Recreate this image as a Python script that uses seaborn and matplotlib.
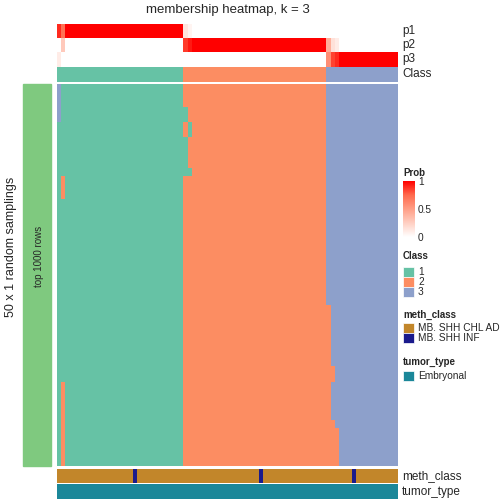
import numpy as np
import pandas as pd
import seaborn as sns
import matplotlib.pyplot as plt
from matplotlib.colors import ListedColormap, LinearSegmentedColormap, Normalize
from matplotlib.cm import ScalarMappable
from matplotlib.patches import Rectangle

sns.set_theme(style="white")
plt.rcParams['font.family'] = ['Liberation Sans', 'DejaVu Sans']

# ---- data -------------------------------------------------------------
n_samplings = 50
class_labels = [1] * 30 + [2] * 34 + [3] * 17

# (first row, last row + 1, column, class) where a sampling disagrees
deviations = [
    (0, 5, 0, 3),
    (12, 15, 1, 2),
    (39, 50, 1, 2),
    (3, 5, 30, 1),
    (7, 12, 30, 1),
    (5, 7, 31, 1),
    (11, 12, 31, 1),
    (29, 50, 64, 2),
    (37, 39, 65, 2),
    (44, 50, 65, 2),
    (45, 50, 66, 2),
]

p1 = [0.90, 0.72] + [1.0] * 28 + [0.14, 0.06] + [0.0] * 49
p2 = [0.0, 0.28] + [0.0] * 28 + [0.86, 0.94] + [1.0] * 32 + [0.42, 0.16, 0.10] + [0.0] * 14
p3 = [0.10, 0.0] + [0.0] * 28 + [0.0, 0.0] + [0.0] * 32 + [0.58, 0.84, 0.90] + [1.0] * 14

meth_levels = ['MB. SHH CHL AD', 'MB. SHH INF']
meth_class = ['MB. SHH CHL AD'] * 81
for i in [18, 48, 70]:
    meth_class[i] = 'MB. SHH INF'
tumor_levels = ['Embryonal']
tumor_type = ['Embryonal'] * 81

class_colors = ['#66C2A5', '#FC8D62', '#8DA0CB']
meth_colors = ['#C2862A', '#1A1A8C']
tumor_colors = ['#1B8799']
prob_cmap = LinearSegmentedColormap.from_list(
    'prob', [(0, '#FFFFFF'), (0.25, '#FFCFC2'), (0.5, '#FF9E86'), (0.75, '#FF6A4D'), (1, '#FF0000')])

# ---- build tables -----------------------------------------------------
mat = np.tile(np.array(class_labels), (n_samplings, 1))
for r0, r1, c, k in deviations:
    mat[r0:r1, c] = k
mem_df = pd.DataFrame(mat)
prob_df = pd.DataFrame([p1, p2, p3], index=['p1', 'p2', 'p3'])
meth_codes = [[meth_levels.index(m) for m in meth_class]]
tumor_codes = [[tumor_levels.index(t) for t in tumor_type]]

W = H = 504


def px_axes(fig, x0, y0, x1, y1):
    return fig.add_axes([x0 / W, 1 - y1 / H, (x1 - x0) / W, (y1 - y0) / H])


def px_text(fig, x, y, s, **kw):
    fig.text(x / W, 1 - y / H, s, **kw)


fig = plt.figure(figsize=(5.04, 5.04), dpi=100)

left, right = 57, 398

ax_prob = px_axes(fig, left, 24, right, 66.5)
sns.heatmap(prob_df, ax=ax_prob, cmap=prob_cmap, vmin=0, vmax=1, cbar=False,
            xticklabels=False, yticklabels=False)

ax_cls = px_axes(fig, left, 66.5, right, 81.5)
sns.heatmap([class_labels], ax=ax_cls, cmap=ListedColormap(class_colors), vmin=0.5, vmax=3.5,
            cbar=False, xticklabels=False, yticklabels=False)

ax_main = px_axes(fig, left, 84, right, 465.7)
sns.heatmap(mem_df, ax=ax_main, cmap=ListedColormap(class_colors), vmin=0.5, vmax=3.5,
            cbar=False, xticklabels=False, yticklabels=False)

ax_meth = px_axes(fig, left, 469, right, 483)
sns.heatmap(meth_codes, ax=ax_meth, cmap=ListedColormap(meth_colors), vmin=-0.5, vmax=1.5,
            cbar=False, xticklabels=False, yticklabels=False)

ax_tum = px_axes(fig, left, 484, right, 499)
sns.heatmap(tumor_codes, ax=ax_tum, cmap=ListedColormap(tumor_colors), vmin=-0.5, vmax=0.5,
            cbar=False, xticklabels=False, yticklabels=False)

# left split bar
fig.patches.append(Rectangle((23 / W, 1 - 465.7 / H), 28 / W, 381.7 / H,
                             transform=fig.transFigure, color='#7FC97F', zorder=0))
px_text(fig, 38.5, 256, 'top 1000 rows', rotation=90, ha='center', va='center', fontsize=7)
px_text(fig, 11.5, 247, '50 x 1 random samplings', rotation=90, ha='center', va='center', fontsize=9)

px_text(fig, 227.5, 10, 'membership heatmap, k = 3', ha='center', va='center', fontsize=9.5)

for lab, y in [('p1', 31), ('p2', 45), ('p3', 59), ('Class', 74),
               ('meth_class', 476), ('tumor_type', 491.5)]:
    px_text(fig, 402, y, lab, ha='left', va='center', fontsize=8.5)

# legends
px_text(fig, 403, 172.5, 'Prob', ha='left', va='center', fontsize=7, fontweight='bold')
cax = px_axes(fig, 403, 181, 415, 237)
cb = fig.colorbar(ScalarMappable(Normalize(0, 1), prob_cmap), cax=cax, ticks=[0, 0.5, 1])
cb.outline.set_visible(False)
cax.tick_params(direction='in', length=3, width=0.8, color='white', labelsize=7.3, pad=2)
cb.ax.set_yticklabels(['0', '0.5', '1'])


def box_legend(title, y_title, labels, colors, y0):
    px_text(fig, 403, y_title, title, ha='left', va='center', fontsize=7, fontweight='bold')
    for i, (lab, col) in enumerate(zip(labels, colors)):
        yt = y0 + i * 10
        fig.patches.append(Rectangle((403.3 / W, 1 - (yt + 10) / H), 11 / W, 10 / H,
                                     transform=fig.transFigure, facecolor=col,
                                     edgecolor='white', lw=0.5))
        px_text(fig, 418, yt + 5, lab, ha='left', va='center', fontsize=7.3)


box_legend('Class', 256, ['1', '2', '3'], class_colors, 266.7)
box_legend('meth_class', 315, meth_levels, meth_colors, 323.3)
box_legend('tumor_type', 362, tumor_levels, tumor_colors, 371)

plt.savefig('out.png', dpi=100)
